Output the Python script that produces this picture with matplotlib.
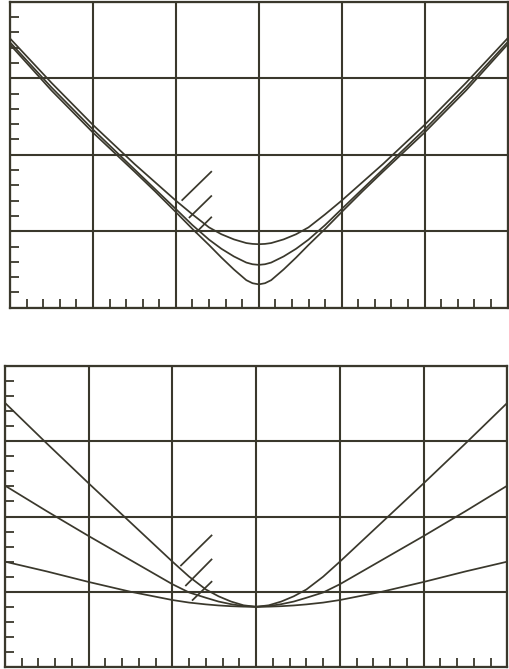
import matplotlib
matplotlib.use("Agg")
import matplotlib.pyplot as plt
from matplotlib.ticker import MultipleLocator

# ---------------- data ----------------
# upper panel: three V-shaped curves with different minimum levels
x_top = [-3, -2.5, -2, -1.5, -1.25, -1, -0.8, -0.6, -0.45, -0.3, -0.15, -0.075,
         0, 0.075, 0.15, 0.3, 0.45, 0.6, 0.8, 1, 1.25, 1.5, 2, 2.5, 3]
top_curve_1 = [3.52, 2.94, 2.39, 1.88, 1.64, 1.40, 1.22, 1.05, 0.96, 0.893, 0.845, 0.834,
               0.83, 0.834, 0.845, 0.893, 0.96, 1.05, 1.22, 1.40, 1.64, 1.88, 2.39, 2.94, 3.52]
top_curve_2 = [3.47, 2.88, 2.33, 1.81, 1.55, 1.29, 1.08, 0.89, 0.77, 0.67, 0.59, 0.568,
               0.56, 0.568, 0.59, 0.67, 0.77, 0.89, 1.08, 1.29, 1.55, 1.81, 2.33, 2.88, 3.47]
top_curve_3 = [3.44, 2.84, 2.29, 1.78, 1.52, 1.25, 1.03, 0.82, 0.655, 0.50, 0.36, 0.32,
               0.305, 0.32, 0.36, 0.50, 0.655, 0.82, 1.03, 1.25, 1.52, 1.78, 2.29, 2.84, 3.44]

# lower panel: three curves sharing the same minimum
x_bot = [-3, -2.5, -2, -1.5, -1.25, -1, -0.8, -0.6, -0.45, -0.3, -0.15,
         0, 0.15, 0.3, 0.45, 0.6, 0.8, 1, 1.25, 1.5, 2, 2.5, 3]
bot_curve_1 = [3.51, 2.97, 2.44, 1.92, 1.66, 1.40, 1.20, 1.03, 0.94, 0.87, 0.82,
               0.80, 0.82, 0.87, 0.94, 1.03, 1.20, 1.40, 1.66, 1.92, 2.44, 2.97, 3.51]
bot_curve_2 = [2.41, 2.07, 1.74, 1.42, 1.26, 1.10, 0.99, 0.92, 0.87, 0.835, 0.81,
               0.80, 0.81, 0.835, 0.87, 0.92, 0.99, 1.10, 1.26, 1.42, 1.74, 2.07, 2.41]
bot_curve_3 = [1.40, 1.27, 1.13, 1.00, 0.945, 0.89, 0.856, 0.832, 0.818, 0.808, 0.802,
               0.80, 0.802, 0.808, 0.818, 0.832, 0.856, 0.89, 0.945, 1.00, 1.13, 1.27, 1.40]

# short leader strokes (start x, start y, end x, end y)
top_leaders_x0 = [-0.923, -0.835, -0.754]
top_leaders_y0 = [1.407, 1.181, 0.985]
top_leaders_x1 = [-0.573, -0.573, -0.573]
top_leaders_y1 = [1.777, 1.459, 1.181]

bot_leaders_x0 = [-0.898, -0.839, -0.759]
bot_leaders_y0 = [1.349, 1.084, 0.890]
bot_leaders_x1 = [-0.533, -0.533, -0.533]
bot_leaders_y1 = [1.748, 1.429, 1.133]

x_range = (-3, 3)
y_range = (0, 4)

# ---------------- drawing ----------------
INK = "#3a382c"
W, H = 509, 669
fig = plt.figure(figsize=(W / 100, H / 100), dpi=100)
fig.patch.set_facecolor("white")

ax_top = fig.add_axes([10.0 / W, 1 - 307.7 / H, 497.5 / W, 306.0 / H])
ax_bot = fig.add_axes([5.0 / W, 1 - 667.0 / H, 502.3 / W, 301.0 / H])


def style(ax):
    ax.set_xlim(*x_range)
    ax.set_ylim(*y_range)
    ax.set_facecolor("white")
    for s in ax.spines.values():
        s.set_color(INK)
        s.set_linewidth(1.6)
    ax.xaxis.set_major_locator(MultipleLocator(1))
    ax.yaxis.set_major_locator(MultipleLocator(1))
    ax.xaxis.set_minor_locator(MultipleLocator(0.2))
    ax.yaxis.set_minor_locator(MultipleLocator(0.2))
    ax.grid(True, which="major", color=INK, linewidth=1.5)
    ax.set_axisbelow(False)
    ax.tick_params(which="major", length=0, labelbottom=False, labelleft=False)
    ax.tick_params(which="minor", direction="in", length=6.5, width=1.3,
                   color=INK, bottom=True, left=True, top=False, right=False,
                   labelbottom=False, labelleft=False)


style(ax_top)
style(ax_bot)

lw = 1.25
for ys in (top_curve_1, top_curve_2, top_curve_3):
    ax_top.plot(x_top, ys, color=INK, linewidth=lw, solid_joinstyle="round",
                clip_on=True, zorder=3)
for ys in (bot_curve_1, bot_curve_2, bot_curve_3):
    ax_bot.plot(x_bot, ys, color=INK, linewidth=lw, solid_joinstyle="round",
                clip_on=True, zorder=3)

for x0, y0, x1, y1 in zip(top_leaders_x0, top_leaders_y0, top_leaders_x1, top_leaders_y1):
    ax_top.plot([x0, x1], [y0, y1], color=INK, linewidth=lw, zorder=3)
for x0, y0, x1, y1 in zip(bot_leaders_x0, bot_leaders_y0, bot_leaders_x1, bot_leaders_y1):
    ax_bot.plot([x0, x1], [y0, y1], color=INK, linewidth=lw, zorder=3)

fig.savefig("out.png", dpi=100, facecolor="white")
